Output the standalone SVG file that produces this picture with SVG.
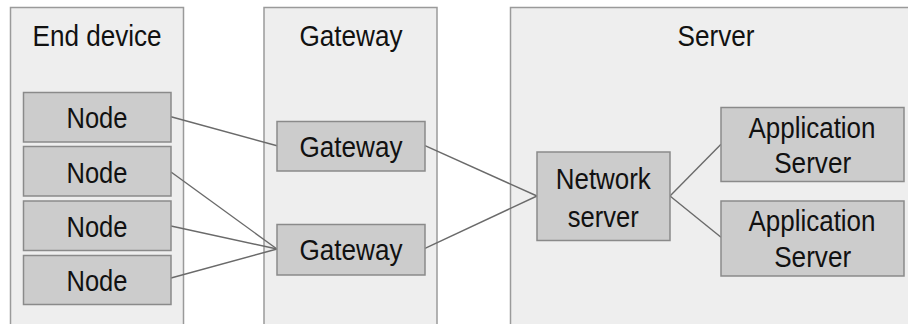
<svg xmlns="http://www.w3.org/2000/svg" width="908" height="324" viewBox="0 0 908 324">
<style>
.panel{fill:#eeeeee;stroke:#9a9a9a;stroke-width:1.5}
.box{fill:#cccccc;stroke:#8a8a8a;stroke-width:1.5}
.t{font-family:"Liberation Sans",Arial,sans-serif;font-size:29px;fill:#111111;text-anchor:middle}
.c{stroke:#6a6a6a;stroke-width:1.4;fill:none}
</style>
<rect width="908" height="324" fill="#ffffff"/>
<g id="panel-end-device">
<rect class="panel" x="10.5" y="7.5" width="173" height="330"/>
<text class="t" x="97" y="46" textLength="129" lengthAdjust="spacingAndGlyphs">End device</text>
</g>
<g id="panel-gateway">
<rect class="panel" x="264" y="7.5" width="173" height="330"/>
<text class="t" x="351" y="46" textLength="103" lengthAdjust="spacingAndGlyphs">Gateway</text>
</g>
<g id="panel-server">
<rect class="panel" x="510.5" y="7.5" width="420" height="330"/>
<text class="t" x="716" y="46" textLength="77" lengthAdjust="spacingAndGlyphs">Server</text>
</g>
<g id="connectors">
<line class="c" x1="171" y1="116.7" x2="277" y2="145.7"/>
<line class="c" x1="171" y1="172" x2="277" y2="249"/>
<line class="c" x1="171" y1="226" x2="277" y2="249"/>
<line class="c" x1="171" y1="278" x2="277" y2="249"/>
<line class="c" x1="425" y1="145.7" x2="537" y2="196"/>
<line class="c" x1="425" y1="248.3" x2="537" y2="196"/>
<line class="c" x1="670" y1="196" x2="721" y2="144.3"/>
<line class="c" x1="670" y1="196" x2="721" y2="237.3"/>
</g>
<g id="node1">
<rect class="box" x="23.5" y="92.5" width="147.5" height="49.5"/>
<text class="t" x="97" y="128.3" textLength="61" lengthAdjust="spacingAndGlyphs">Node</text>
</g>
<g id="node2">
<rect class="box" x="23.5" y="146.5" width="147.5" height="49.5"/>
<text class="t" x="97" y="182.7" textLength="61" lengthAdjust="spacingAndGlyphs">Node</text>
</g>
<g id="node3">
<rect class="box" x="23.5" y="201" width="147.5" height="49.5"/>
<text class="t" x="97" y="236.7" textLength="61" lengthAdjust="spacingAndGlyphs">Node</text>
</g>
<g id="node4">
<rect class="box" x="23.5" y="255.5" width="147.5" height="49"/>
<text class="t" x="97" y="291" textLength="61" lengthAdjust="spacingAndGlyphs">Node</text>
</g>
<g id="gateway1">
<rect class="box" x="277" y="121.5" width="148" height="49.5"/>
<text class="t" x="351" y="156.7" textLength="103" lengthAdjust="spacingAndGlyphs">Gateway</text>
</g>
<g id="gateway2">
<rect class="box" x="277" y="224.5" width="148" height="50.5"/>
<text class="t" x="351" y="260" textLength="103" lengthAdjust="spacingAndGlyphs">Gateway</text>
</g>
<g id="network-server">
<rect class="box" x="537" y="152" width="133" height="88.5"/>
<text class="t" x="603.3" y="189" textLength="95" lengthAdjust="spacingAndGlyphs">Network</text>
<text class="t" x="603.3" y="226.7" textLength="71" lengthAdjust="spacingAndGlyphs">server</text>
</g>
<g id="app-server1">
<rect class="box" x="721" y="107.5" width="183" height="74"/>
<text class="t" x="812" y="137.7" textLength="127" lengthAdjust="spacingAndGlyphs">Application</text>
<text class="t" x="812.7" y="173.3" textLength="77" lengthAdjust="spacingAndGlyphs">Server</text>
</g>
<g id="app-server2">
<rect class="box" x="721" y="201" width="183" height="75"/>
<text class="t" x="812" y="231" textLength="127" lengthAdjust="spacingAndGlyphs">Application</text>
<text class="t" x="812.7" y="266.7" textLength="77" lengthAdjust="spacingAndGlyphs">Server</text>
</g>
</svg>
